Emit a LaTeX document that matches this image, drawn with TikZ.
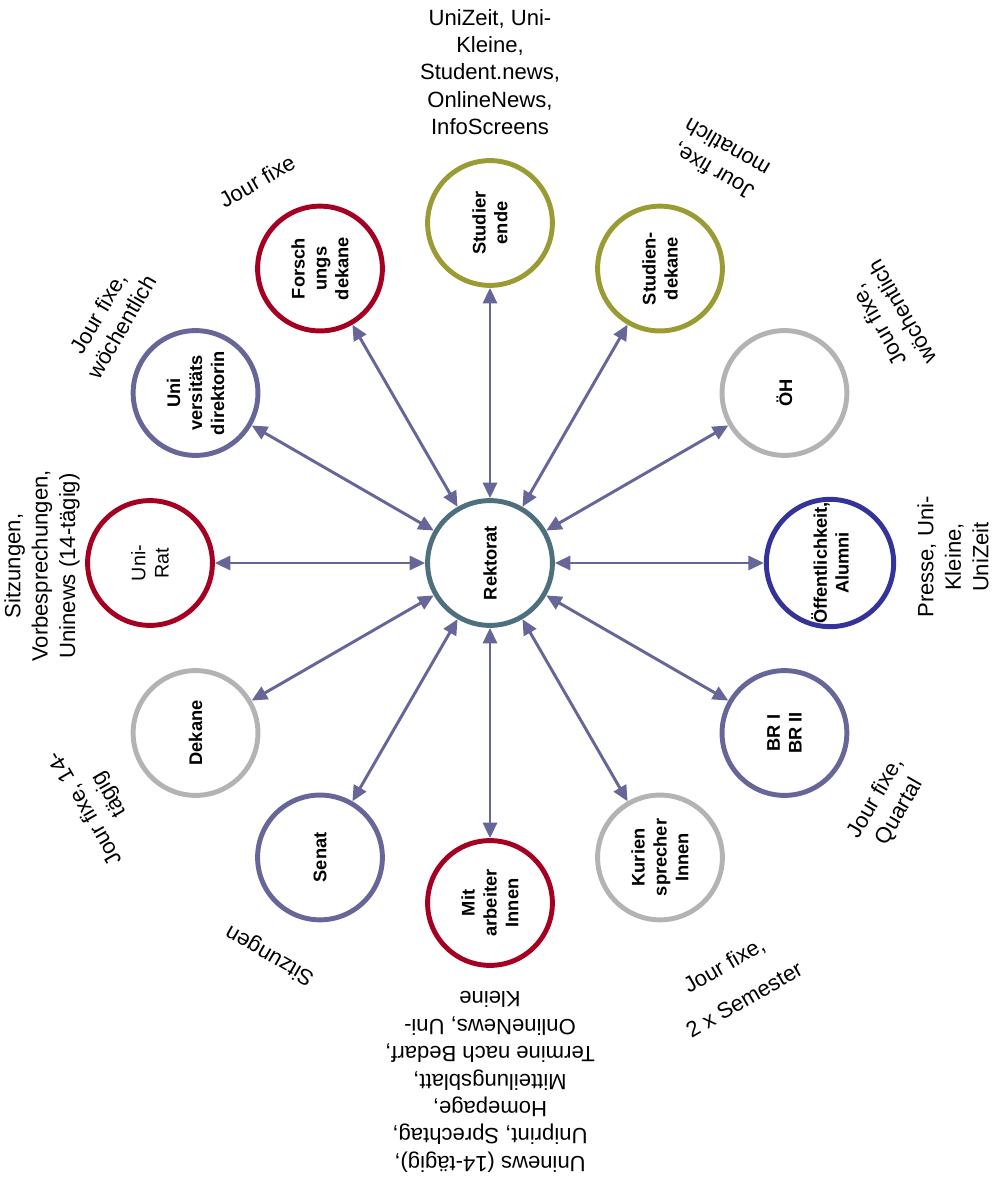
\documentclass[tikz,border=0pt]{standalone}
\usepackage{fontspec}
\setmainfont{Liberation Sans}
\usetikzlibrary{arrows.meta}

\begin{document}
\begin{tikzpicture}[
    every node/.style={font=\rmfamily},
]

% ---------------------------------------------------------------- colours
\definecolor{cred}{HTML}{A50021}    % Uni-Rat, Forschung, MitarbeiterInnen
\definecolor{colive}{HTML}{9B9B33}  % Studierende, Studiendekane
\definecolor{cgray}{HTML}{B3B3B3}   % ÖH, Dekane, KuriensprecherInnen
\definecolor{cnavy}{HTML}{333399}   % Öffentlichkeit
\definecolor{cslate}{HTML}{666699}  % BR, Senat, Direktorin, arrows
\definecolor{chub}{HTML}{4E6F7E}    % Rektorat

% ---------------------------------------------------------------- styles
\tikzset{
    org/.style={
        circle, minimum size=3.12cm, inner sep=0pt, line width=3.5pt,
        fill=white, rotate=90, align=center,
        font=\fontsize{13}{15.6}\selectfont\bfseries,
    },
    plainorg/.style={
        org, font=\fontsize{14}{16.5}\selectfont\mdseries,
    },
    memo/.style={
        align=center, inner sep=0pt,
        font=\fontsize{15.7}{19.5}\selectfont,
    },
    link/.style={
        {Triangle[length=11pt, width=10pt]}-{Triangle[length=11pt, width=10pt]},
        line width=2.1pt, cslate,
    },
}

\useasboundingbox (-12.25, -15.425) rectangle (12.55, 14.075);

% ================================================================
% GEOMETRY
%   Rektorat in the middle at (0,0)
%   twelve partners on a ring of radius 8.5, every 30 degrees
%   channel texts outside the ring, turned with their partner
% ================================================================

% ---------------------------------------------------------------- hub
\node[org, draw=chub] (rekt) at (0, 0) {Rektorat};

% ---------------------------------------------------------------- ring
\node[org, draw=colive] (stud) at (90:8.5)   {Studier\\ende};
\node[org, draw=colive] (stdk) at (60:8.5)   {Studien-\\dekane};
\node[org, draw=cgray]  (oeh)  at (30:8.5)   {ÖH};
\node[org, draw=cnavy]  (oeff) at (0:8.5)    {Öffentlichkeit,\\Alumni};
\node[org, draw=cslate] (br)   at (-30:8.5)  {BR I\\BR II};
\node[org, draw=cgray]  (kur)  at (-60:8.5)  {Kurien\\sprecher\\Innen};
\node[org, draw=cred]   (mit)  at (-90:8.5)  {Mit\\arbeiter\\Innen};
\node[org, draw=cslate] (sen)  at (-120:8.5) {Senat};
\node[org, draw=cgray]  (dek)  at (-150:8.5) {Dekane};
\node[plainorg, draw=cred] (rat) at (180:8.5) {Uni-\\Rat};
\node[org, draw=cslate] (udir) at (150:8.5)  {Uni\\versitäts\\direktorin};
\node[org, draw=cred]   (fdek) at (120:8.5)  {Forsch\\ungs\\dekane};

\foreach \p in {stud, stdk, oeh, oeff, br, kur, mit, sen, dek, rat, udir, fdek} {
    \draw[link] (rekt) -- (\p);
}

% ---------------------------------------------------------------- channels
\node[memo] (tstud) at (0, 12.275)
    {UniZeit, Uni-\\Kleine,\\Student.news,\\OnlineNews,\\InfoScreens};
\node[memo, rotate=150] (tstdk) at (5.75, 10.075) {Jour fixe,\\monatlich};
\node[memo, rotate=120] (toeh) at (10.0, 6.1) {Jour fixe,\\wöchentlich};
\node[memo, rotate=90] (toeff) at (11.575, 0.15)
    {Presse, Uni-\\Kleine,\\UniZeit};
\node[memo, rotate=60] (tbr) at (9.95, -6.05) {Jour fixe,\\Quartal};
\node[memo, rotate=30] (tkur) at (6.1, -10.475)
    {Jour fixe,\\[9pt]2 x Semester};
\node[memo, rotate=180] (tmit) at (0, -12.975)
    {Uninews (14-tägig),\\Uniprint, Sprechtag,\\Homepage,\\Mitteilungsblatt,\\
     Termine nach Bedarf,\\OnlineNews, Uni-\\Kleine};
\node[memo, rotate=150] (tsen) at (-5.5, -9.8) {Sitzungen};
\node[memo, rotate=120] (tdek) at (-9.8, -5.95) {Jour fixe, 14-\\tägig};
\node[memo, rotate=90] (trat) at (-11.2, -0.075)
    {Sitzungen,\\Vorbesprechungen,\\Uninews (14-tägig)};
\node[memo, rotate=60] (tudir) at (-9.5, 6.075) {Jour fixe,\\wöchentlich};
\node[memo, rotate=30] (tfdek) at (-5.825, 9.55) {Jour fixe};

\end{tikzpicture}
\end{document}
